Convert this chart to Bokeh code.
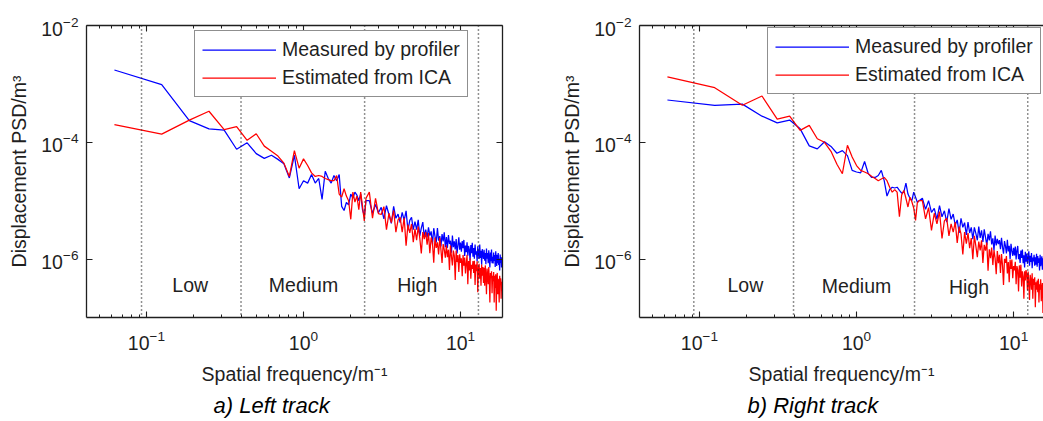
from bokeh.plotting import figure
from bokeh.layouts import row
from bokeh.models import (LogAxis, FixedTicker, Span, Legend, LegendItem, Title,
                          CustomJSTickFormatter, ColumnDataSource, Range1d)
from bokeh.core.properties import value
from bokeh.embed import file_html
from bokeh.resources import INLINE

FONT = "Liberation Sans"
INK = "#1f1f1f"

# ---------------- data ----------------
freq = [
    0.0625, 0.125, 0.1875, 0.25, 0.3125, 0.375, 0.4375, 0.5, 0.5625, 0.625, 0.6875, 0.75,
    0.8125, 0.875, 0.9375, 1.0, 1.0625, 1.125, 1.1875, 1.25, 1.3125, 1.375, 1.4375, 1.5,
    1.5625, 1.625, 1.6875, 1.75, 1.8125, 1.875, 1.9375, 2.0, 2.0625, 2.125, 2.1875, 2.25,
    2.3125, 2.375, 2.4375, 2.5,
    2.625, 2.75, 2.875, 3.0,
    3.125, 3.25, 3.375, 3.5, 3.625, 3.75, 3.875, 4.0,
    4.125, 4.25, 4.375, 4.5, 4.625, 4.75, 4.875, 5.0,
    5.125, 5.25, 5.375, 5.5, 5.625, 5.75, 5.875, 6.0,
    6.125, 6.25, 6.375, 6.5, 6.625, 6.75, 6.875, 7.0, 7.125, 7.25, 7.375, 7.5, 7.625, 7.75, 7.875, 8.0,
    8.125, 8.25, 8.375, 8.5, 8.625, 8.75, 8.875, 9.0, 9.125, 9.25, 9.375, 9.5, 9.625, 9.75, 9.875, 10.0,
    10.125, 10.25, 10.375, 10.5, 10.625, 10.75, 10.875, 11.0, 11.125, 11.25, 11.375, 11.5, 11.625, 11.75, 11.875, 12.0,
    12.125, 12.25, 12.375, 12.5, 12.625, 12.75, 12.875, 13.0, 13.125, 13.25, 13.375, 13.5, 13.625, 13.75, 13.875, 14.0,
    14.125, 14.25, 14.375, 14.5, 14.625, 14.75, 14.875, 15.0, 15.125, 15.25, 15.375, 15.5, 15.625, 15.75, 15.875, 16.0,
    16.125, 16.25, 16.375, 16.5, 16.625, 16.75, 16.875, 17.0, 17.125, 17.25, 17.375, 17.5, 17.625, 17.75, 17.875, 18.0,
    18.125, 18.25, 18.375, 18.5,
]

left_measured = [
    1.73e-3, 9.7e-4, 2.35e-4, 1.7e-4, 1.62e-4, 7.6e-5, 9.8e-5, 6.4e-5, 5.3e-5, 6.0e-5, 5.1e-5, 4.3e-5,
    2.45e-5, 6.0e-5, 1.6e-5, 2.2e-5, 2.0e-5, 2.8e-5, 2.0e-5, 2.4e-5, 1.05e-5, 3.2e-5, 2.4e-5, 2.0e-5,
    2.7e-5, 2.2e-5, 2.8e-5, 8.0e-6, 6.8e-6, 9.3e-6, 8.5e-6, 1.3e-5, 1.1e-5, 1.4e-5, 1.25e-5, 1.0e-5,
    1.3e-5, 7.0e-6, 5.5e-6, 1.0e-5,
    1.0e-5, 6.1e-6, 8.6e-6, 6.2e-6,
    7.7e-6, 4.9e-6, 8.2e-6, 5.8e-6, 4.1e-6, 8.0e-6, 5.0e-6, 5.9e-6,
    4.2e-6, 6.3e-6, 4.6e-6, 6.7e-6, 3.1e-6, 4.6e-6, 5.2e-6, 3.2e-6,
    4.4e-6, 3.2e-6, 4.7e-6, 2.5e-6, 3.4e-6, 4.3e-6, 2.4e-6, 3.2e-6,
    2.34e-6, 3.51e-6, 2.52e-6, 2.99e-6, 1.79e-6, 3.38e-6, 2.45e-6, 1.92e-6,
    3.41e-6, 2.07e-6, 2.48e-6, 1.65e-6, 2.69e-6, 2.0e-6, 2.87e-6, 1.6e-6,
    2.38e-6, 1.56e-6, 2.59e-6, 1.81e-6, 2.06e-6, 1.29e-6, 2.53e-6, 1.6e-6,
    2.01e-6, 1.46e-6, 2.21e-6, 1.25e-6, 1.73e-6, 2.36e-6, 1.45e-6, 1.92e-6,
    1.34e-6, 2.03e-6, 1.54e-6, 2.13e-6, 1.13e-6, 1.7e-6, 1.31e-6, 1.94e-6,
    1.14e-6, 1.68e-6, 1.45e-6, 9.5e-7, 1.74e-6, 1.26e-6, 1.9e-6, 1.1e-6,
    1.55e-6, 1.02e-6, 1.78e-6, 1.19e-6, 1.36e-6, 9.2e-7, 1.65e-6, 1.2e-6,
    1.01e-6, 1.77e-6, 1.05e-6, 1.39e-6, 8.0e-7, 1.48e-6, 1.19e-6, 1.01e-6,
    1.44e-6, 9.4e-7, 1.27e-6, 8.2e-7, 1.51e-6, 1.02e-6, 1.27e-6, 8.5e-7,
    1.42e-6, 1.04e-6, 7.2e-7, 1.29e-6, 9.2e-7, 1.46e-6, 8.5e-7, 1.1e-6,
    8.4e-7, 1.29e-6, 9.3e-7, 1.18e-6, 7.3e-7, 1.36e-6, 9.6e-7, 7.6e-7, 1.19e-6, 8.5e-7,
    1.27e-6, 7.9e-7, 1.02e-6, 6.4e-7, 1.2e-6, 8.6e-7, 1.09e-6, 7.2e-7, 1.04e-6, 8.0e-7,
]

left_ica = [
    2.0e-4, 1.38e-4, 2.4e-4, 3.4e-4, 1.65e-4, 1.85e-4, 1.08e-4, 1.4e-4, 8.6e-5, 7.0e-5, 5.8e-5, 4.4e-5,
    2.6e-5, 7.2e-5, 3.6e-5, 5.2e-5, 4.0e-5, 3.0e-5, 2.6e-5, 2.7e-5, 2.6e-5, 2.4e-5, 2.3e-5, 2.2e-5,
    2.2e-5, 2.7e-5, 1.3e-5, 1.15e-5, 1.6e-5, 1.2e-5, 1.0e-5, 4.8e-6, 1.4e-5, 9.5e-6, 1.2e-5, 7.0e-6,
    1.4e-5, 8.0e-6, 4.5e-6, 1.1e-5,
    1.4e-5, 5.0e-6, 1.1e-5, 6.0e-6,
    5.8e-6, 7.9e-6, 3.2e-6, 6.1e-6, 4.2e-6, 6.8e-6, 2.9e-6, 4.7e-6,
    5.2e-6, 2.9e-6, 5.1e-6, 1.7e-6, 3.9e-6, 2.8e-6, 4.0e-6, 1.95e-6,
    3.3e-6, 2.1e-6, 3.6e-6, 2.3e-6, 1.25e-6, 2.9e-6, 2.2e-6, 2.9e-6,
    1.76e-6, 2.8e-6, 1.26e-6, 2.35e-6, 1.88e-6, 8.7e-7, 2.34e-6, 1.55e-6,
    1.94e-6, 1.2e-6, 2.32e-6, 1.45e-6, 8.6e-7, 1.81e-6, 1.46e-6, 1.06e-6,
    1.73e-6, 1.08e-6, 1.45e-6, 6.5e-7, 1.7e-6, 1.11e-6, 7.8e-7, 1.4e-6,
    1.14e-6, 4.4e-7, 1.4e-6, 8.9e-7, 1.17e-6, 6.0e-7, 1.21e-6, 8.6e-7,
    1.03e-6, 5.1e-7, 1.18e-6, 7.7e-7, 1.06e-6, 5.7e-7, 8.5e-7, 1.18e-6,
    3.7e-7, 9.3e-7, 6.4e-7, 1.03e-6, 4.6e-7, 8.0e-7, 6.8e-7, 9.3e-7,
    5.8e-7, 9.4e-7, 3.6e-7, 8.1e-7, 6.2e-7, 9.2e-7, 2.7e-7, 6.9e-7,
    8.3e-7, 4.6e-7, 7.0e-7, 3.5e-7, 8.1e-7, 5.2e-7, 7.3e-7, 3.9e-7,
    7.1e-7, 3.5e-7, 7.8e-7, 5.1e-7, 2.5e-7, 6.9e-7, 5.4e-7, 3.7e-7,
    7.3e-7, 4.2e-7, 1.8e-7, 5.8e-7, 4.7e-7, 6.2e-7, 2.6e-7, 5.2e-7,
    4.2e-7, 6.0e-7, 1.8e-7, 5.2e-7, 3.2e-7, 5.5e-7, 1.3e-7, 4.3e-7, 5.8e-7, 2.5e-7,
    4.6e-7, 3.5e-7, 1.8e-7, 5.2e-7, 3.8e-7, 4.7e-7, 2.1e-7, 4.1e-7, 2.9e-7, 4.6e-7,
]

right_measured = [
    5.3e-4, 4.3e-4, 4.5e-4, 2.8e-4, 2.15e-4, 2.4e-4, 1.7e-4, 8.7e-5, 7.7e-5, 1.02e-4, 8.5e-5, 6.5e-5,
    7.2e-5, 5.9e-5, 3.3e-5, 3.1e-5, 3.0e-5, 4.7e-5, 2.9e-5, 2.5e-5, 2.5e-5, 2.7e-5, 3.3e-5, 2.2e-5,
    1.2e-5, 1.55e-5, 1.7e-5, 1.65e-5, 1.7e-5, 1.5e-5, 1.35e-5, 1.4e-5, 2.0e-5, 1.3e-5, 1.1e-5, 1.0e-5,
    1.4e-5, 1.15e-5, 9.4e-6, 1.0e-5,
    1.1e-5, 7.1e-6, 1.0e-5, 6.3e-6,
    7.4e-6, 4.8e-6, 8.2e-6, 5.3e-6, 6.7e-6, 4.3e-6, 7.3e-6, 4.8e-6,
    5.9e-6, 3.8e-6, 4.7e-6, 2.8e-6, 5.0e-6, 3.5e-6, 4.2e-6, 2.6e-6,
    4.3e-6, 2.8e-6, 3.5e-6, 2.2e-6, 3.5e-6, 2.75e-6, 2.1e-6, 3.6e-6,
    2.3e-6, 3.1e-6, 1.96e-6, 3.24e-6, 2.35e-6, 1.73e-6, 2.7e-6, 2.09e-6,
    3.0e-6, 1.79e-6, 2.26e-6, 1.4e-6, 2.54e-6, 1.71e-6, 2.22e-6, 1.8e-6,
    2.12e-6, 1.48e-6, 2.31e-6, 1.6e-6, 1.24e-6, 2.03e-6, 1.67e-6, 1.25e-6,
    2.14e-6, 1.35e-6, 1.69e-6, 1.01e-6, 1.83e-6, 1.38e-6, 1.14e-6, 1.56e-6,
    1.15e-6, 1.64e-6, 9.9e-7, 1.4e-6, 1.68e-6, 1.0e-6, 1.22e-6, 8.6e-7,
    1.4e-6, 1.05e-6, 1.46e-6, 8.5e-7, 1.16e-6, 7.2e-7, 1.33e-6, 9.0e-7,
    1.24e-6, 8.3e-7, 1.07e-6, 1.36e-6, 7.7e-7, 1.14e-6, 8.9e-7, 1.27e-6,
    7.0e-7, 1.06e-6, 9.1e-7, 1.18e-6, 7.7e-7, 1.07e-6, 8.0e-7, 1.23e-6,
    7.4e-7, 1.13e-6, 8.6e-7, 1.03e-6, 6.4e-7, 1.19e-6, 7.6e-7, 9.2e-7,
    1.12e-6, 6.6e-7, 1.03e-6, 7.8e-7, 9.3e-7, 5.7e-7, 1.04e-6, 8.0e-7,
    9.6e-7, 6.7e-7, 1.03e-6, 7.0e-7, 8.6e-7, 5.8e-7, 9.6e-7, 7.2e-7, 1.03e-6, 6.0e-7,
    8.6e-7, 6.7e-7, 9.6e-7, 5.2e-7, 8.8e-7, 7.3e-7, 6.2e-7, 9.0e-7, 6.5e-7, 7.9e-7,
]

right_ica = [
    1.32e-3, 8.6e-4, 4.3e-4, 6.2e-4, 2.5e-4, 2.8e-4, 1.6e-4, 1.95e-4, 1.15e-4, 1.0e-4, 7.0e-5, 4.2e-5,
    2.9e-5, 8.9e-5, 5.6e-5, 4.0e-5, 3.3e-5, 3.1e-5, 2.9e-5, 2.6e-5, 2.4e-5, 2.2e-5, 2.35e-5, 2.5e-5,
    2.2e-5, 1.7e-5, 1.4e-5, 1.55e-5, 1.4e-5, 5.3e-6, 1.25e-5, 1.5e-5, 1.1e-5, 7.8e-6, 1.15e-5, 9.6e-6,
    7.5e-6, 4.6e-6, 9.2e-6, 1.0e-5,
    1.0e-5, 4.9e-6, 7.6e-6, 3.1e-6,
    6.1e-6, 4.0e-6, 6.5e-6, 2.25e-6, 4.5e-6, 5.0e-6, 2.5e-6, 4.0e-6,
    2.9e-6, 4.3e-6, 1.9e-6, 3.6e-6, 2.7e-6, 1.2e-6, 2.9e-6, 1.84e-6,
    2.8e-6, 1.54e-6, 2.3e-6, 1.0e-6, 2.5e-6, 1.67e-6, 1.08e-6, 2.0e-6,
    1.41e-6, 2.09e-6, 8.6e-7, 1.75e-6, 1.4e-6, 1.93e-6, 6.3e-7, 1.47e-6,
    1.04e-6, 1.58e-6, 7.9e-7, 1.42e-6, 1.03e-6, 5.5e-7, 1.37e-6, 8.5e-7,
    1.18e-6, 5.8e-7, 1.22e-6, 7.8e-7, 3.6e-7, 1.01e-6, 8.6e-7, 1.13e-6,
    5.7e-7, 8.9e-7, 4.0e-7, 9.8e-7, 6.8e-7, 9.8e-7, 4.7e-7, 7.6e-7,
    6.4e-7, 9.0e-7, 3.7e-7, 7.6e-7, 6.5e-7, 2.8e-7, 7.8e-7, 4.8e-7,
    8.0e-7, 3.4e-7, 6.2e-7, 5.0e-7, 2.1e-7, 6.2e-7, 4.3e-7, 6.5e-7,
    5.4e-7, 2.9e-7, 6.1e-7, 3.9e-7, 2.0e-7, 5.4e-7, 4.4e-7, 3.0e-7,
    5.7e-7, 2.1e-7, 4.6e-7, 3.6e-7, 4.9e-7, 1.5e-7, 4.0e-7, 3.0e-7,
    4.3e-7, 2.7e-7, 4.6e-7, 1.8e-7, 3.7e-7, 3.0e-7, 4.5e-7, 1.9e-7,
    3.2e-7, 3.9e-7, 1.2e-7, 3.5e-7, 2.5e-7, 8.7e-8, 3.4e-7, 2.7e-7,
    3.1e-7, 1.6e-7, 3.5e-7, 2.2e-7, 3.1e-7, 1.3e-7, 2.6e-7, 3.1e-7, 1.8e-7, 2.9e-7,
    1.1e-7, 3.1e-7, 2.2e-7, 2.4e-7, 1.4e-7, 2.8e-7, 2.0e-7, 2.4e-7, 1.2e-7, 2.2e-7,
]

series_labels = ["Measured by profiler", "Estimated from ICA"]
captions = ["a) Left track", "b) Right track"]
band_names = ["Low", "Medium", "High"]
left_band_edges = [0.093, 0.40, 2.45, 13.0]
right_band_edges = [0.092, 0.397, 2.34, 12.3]
left_band_label_x = [0.19, 1.0, 5.3]
left_band_label_y = [3.6e-7, 3.6e-7, 3.6e-7]
right_band_label_x = [0.196, 1.0, 5.2]
right_band_label_y = [3.6e-7, 3.4e-7, 3.3e-7]
x_major = [0.1, 1.0, 10.0]
x_minor = [0.05, 0.06, 0.07, 0.08, 0.09, 0.2, 0.3, 0.4, 0.5, 0.6, 0.7, 0.8, 0.9,
           2, 3, 4, 5, 6, 7, 8, 9]
y_major = [1e-6, 1e-4, 1e-2]

for s in (left_measured, left_ica, right_measured, right_ica):
    assert len(s) == len(freq), (len(s), len(freq))


def style_axis(ax, ticker, show_labels):
    ax.ticker = ticker
    ax.axis_line_color = INK
    ax.axis_line_width = 1.3
    ax.major_tick_line_color = INK
    ax.minor_tick_line_color = INK
    ax.major_tick_line_width = 1.1
    ax.minor_tick_line_width = 1.0
    ax.major_tick_in = 6
    ax.major_tick_out = 0
    ax.minor_tick_in = 3
    ax.minor_tick_out = 0
    ax.major_label_text_font = FONT
    ax.major_label_text_font_size = "19.5px"
    ax.major_label_text_color = INK
    ax.axis_label_text_font = FONT
    ax.axis_label_text_font_size = "19.5px"
    ax.axis_label_text_font_style = "normal"
    ax.axis_label_text_color = INK
    if not show_labels:
        ax.formatter = CustomJSTickFormatter(code="return ''")
        ax.major_label_standoff = 0


def make_panel(measured, ica, caption, band_edges, band_x, band_y, width, x_end,
               border_left, border_right, border_top, border_bottom,
               legend_loc, title_offset, mirror_right):
    p = figure(width=width, height=421, x_axis_type="log", y_axis_type="log",
               x_range=Range1d(0.0415, x_end), y_range=Range1d(1e-7, 1e-2),
               output_backend="svg", toolbar_location=None,
               min_border_left=border_left, min_border_right=border_right,
               min_border_top=border_top, min_border_bottom=border_bottom,
               background_fill_color="white", border_fill_color="white")
    p.outline_line_color = None
    p.xgrid.visible = False
    p.ygrid.visible = False

    xt = FixedTicker(ticks=x_major, minor_ticks=x_minor)
    yt = FixedTicker(ticks=y_major, minor_ticks=[])
    style_axis(p.below[0], xt, True)
    style_axis(p.left[0], yt, True)
    p.below[0].axis_label = "Spatial frequency/m\u207b\u00b9"
    p.left[0].axis_label = "Displacement PSD/m\u00b3"
    p.below[0].major_label_standoff = 12
    p.below[0].axis_label_standoff = 10
    p.left[0].major_label_standoff = 8
    p.left[0].axis_label_standoff = 8

    top_ax = LogAxis()
    style_axis(top_ax, FixedTicker(ticks=x_major, minor_ticks=x_minor), False)
    p.add_layout(top_ax, "above")
    if mirror_right:
        right_ax = LogAxis()
        style_axis(right_ax, FixedTicker(ticks=y_major, minor_ticks=[]), False)
        p.add_layout(right_ax, "right")

    for e in band_edges:
        p.add_layout(Span(location=e, dimension="height", line_color="#222222",
                          line_width=1.5, line_dash="1 3"))

    src = ColumnDataSource(dict(f=freq, m=measured, e=ica))
    rb = p.line("f", "m", source=src, line_color="#0000ff", line_width=1.25)
    rr = p.line("f", "e", source=src, line_color="#ff0000", line_width=1.25)

    p.text(x=band_x, y=band_y, text=band_names, text_font=value(FONT),
           text_font_size="19.5px", text_align="center", text_baseline="middle",
           text_color=INK)

    leg = Legend(items=[LegendItem(label=series_labels[0], renderers=[rb]),
                        LegendItem(label=series_labels[1], renderers=[rr])],
                 location=legend_loc, label_text_font=FONT,
                 label_text_font_size="19.5px", label_text_color=INK,
                 glyph_width=74, glyph_height=23, label_height=23,
                 label_standoff=6, padding=7, spacing=5, margin=0,
                 border_line_color=INK, border_line_width=1.3,
                 background_fill_color="white", background_fill_alpha=1.0)
    p.add_layout(leg)

    cap = Title(text=caption, align="left", offset=title_offset, text_font=FONT,
                text_font_size="22px", text_font_style="italic", text_color="black",
                standoff=7)
    p.add_layout(cap, "below")
    return p


left = make_panel(left_measured, left_ica, captions[0], left_band_edges,
                  left_band_label_x, left_band_label_y, 520, 18.5,
                  86, 18, 23, 103, (108, 220), 127, True)
right = make_panel(right_measured, right_ica, captions[1], right_band_edges,
                   right_band_label_x, right_band_label_y, 523, 15.5,
                   119, 0, 25, 104, (128, 223), 108, False)

layout = row(left, right, spacing=0)
open("out.html", "w").write(file_html(layout, INLINE))
